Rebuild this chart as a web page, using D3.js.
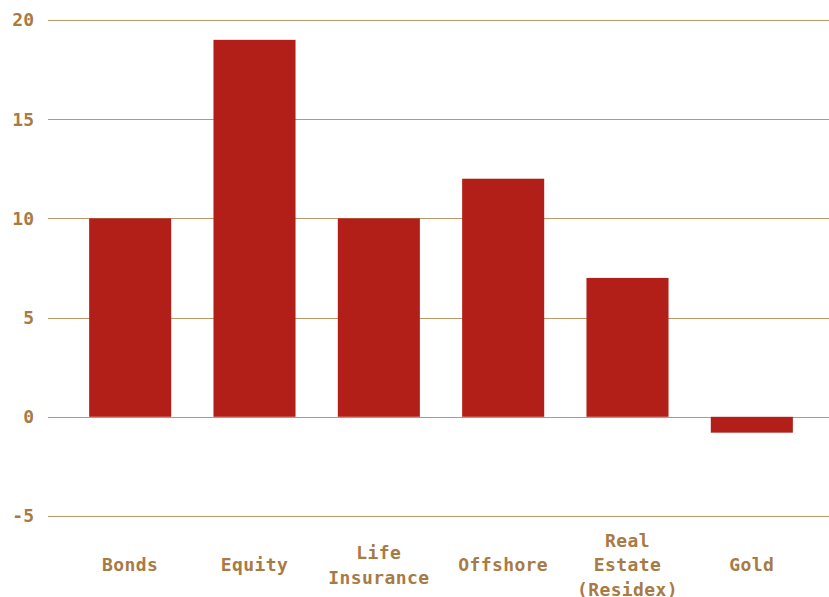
<!DOCTYPE html>
<html>
<head>
<meta charset="utf-8">
<script src="https://cdn.jsdelivr.net/npm/d3@7"></script>
<style>
  body { margin: 0; background: #fff; }
  text { font-family: "DejaVu Sans Mono", monospace; font-weight: bold; }
</style>
</head>
<body>
<svg id="chart" width="829" height="597"></svg>
<script>
const categories = ['Bonds', 'Equity', 'Life Insurance', 'Offshore', 'Real Estate (Residex)', 'Gold'];
const labelLines = [['Bonds'], ['Equity'], ['Life', 'Insurance'], ['Offshore'], ['Real', 'Estate', '(Residex)'], ['Gold']];
const values = [10, 19, 10, 12, 7, -0.8];
const yTicks = [-5, 0, 5, 10, 15, 20];

const svg = d3.select('#chart');
const textColor = '#a87a45';
const gridColor = '#bc9868';

const x = d3.scaleBand()
  .domain(categories)
  .range([68, 814])
  .paddingInner(0.34)
  .paddingOuter(0.17);

const y = d3.scaleLinear()
  .domain([-5, 20])
  .range([516, 20]);

// gridlines
svg.append('g')
  .selectAll('line')
  .data(yTicks)
  .enter()
  .append('line')
  .attr('x1', 48)
  .attr('x2', 829)
  .attr('y1', d => Math.round(y(d)) + 0.5)
  .attr('y2', d => Math.round(y(d)) + 0.5)
  .attr('stroke', gridColor)
  .attr('stroke-width', 1);

// y labels
svg.append('g')
  .selectAll('text')
  .data(yTicks)
  .enter()
  .append('text')
  .attr('x', 34)
  .attr('y', d => y(d))
  .attr('dy', '0.35em')
  .attr('text-anchor', 'end')
  .attr('font-size', 18)
  .attr('fill', textColor)
  .text(d => d);

// bars
svg.append('g')
  .selectAll('rect')
  .data(values)
  .enter()
  .append('rect')
  .attr('x', (d, i) => x(categories[i]))
  .attr('width', x.bandwidth())
  .attr('y', d => y(Math.max(0, d)))
  .attr('height', d => Math.abs(y(d) - y(0)))
  .attr('fill', '#b21f18');

// x labels
const lineH = 24.5;
svg.append('g')
  .selectAll('text')
  .data(labelLines)
  .enter()
  .append('text')
  .attr('text-anchor', 'middle')
  .attr('font-size', 18)
  .attr('letter-spacing', 0.4)
  .attr('fill', textColor)
  .each(function (lines, i) {
    const cx = x(categories[i]) + x.bandwidth() / 2;
    const top = 565 - (lines.length - 1) * lineH / 2;
    d3.select(this).selectAll('tspan')
      .data(lines)
      .enter()
      .append('tspan')
      .attr('x', cx)
      .attr('y', (l, j) => top + j * lineH)
      .attr('dy', '0.35em')
      .text(l => l);
  });
</script>
</body>
</html>
